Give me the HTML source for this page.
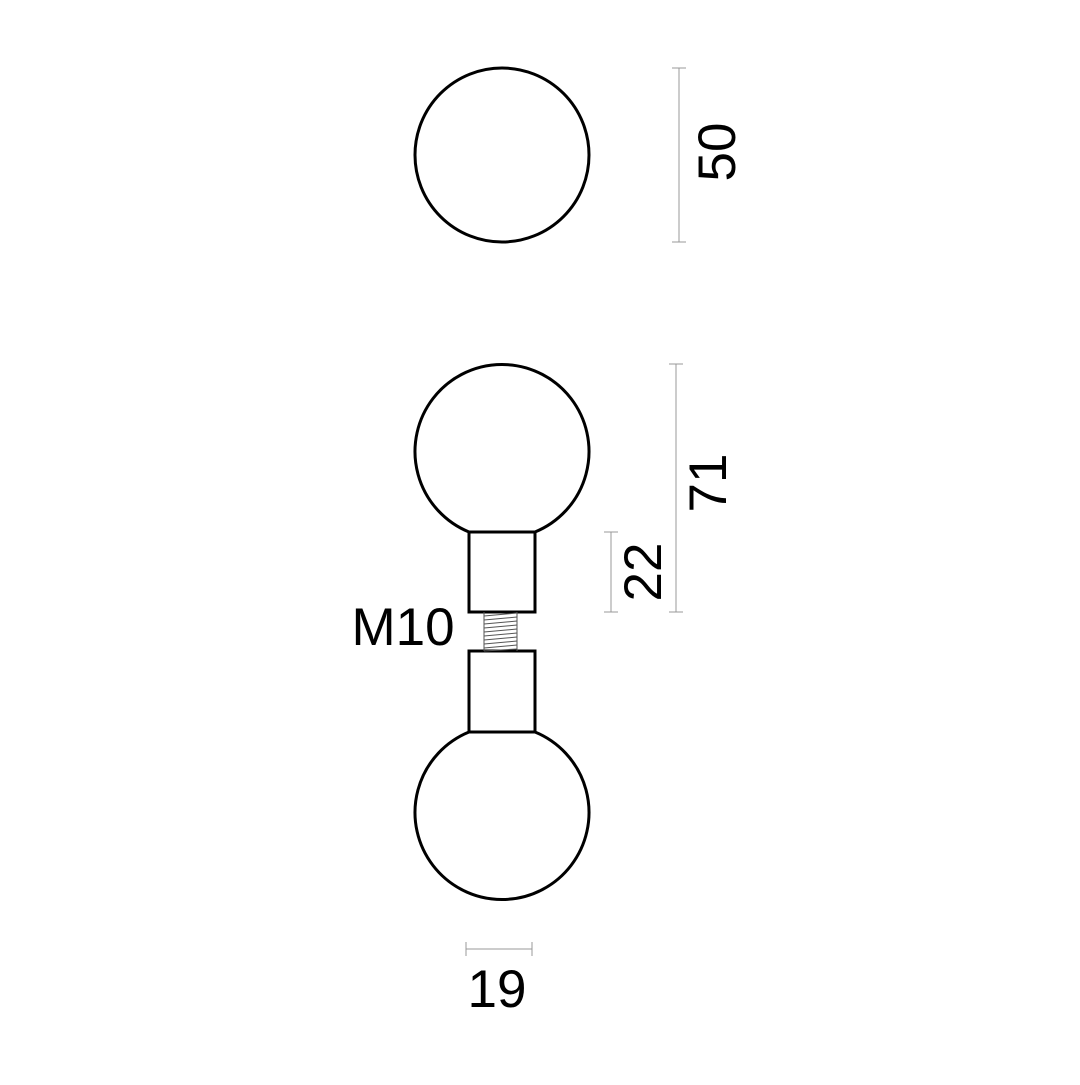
<!DOCTYPE html>
<html><head><style>body{margin:0;background:#fff}</style></head><body>
<svg width="1080" height="1080" viewBox="0 0 1080 1080" xmlns="http://www.w3.org/2000/svg">
<rect width="1080" height="1080" fill="#fff"/>
<g fill="none" stroke="#000" stroke-width="3">
<circle cx="502" cy="155" r="87"/>
<path d="M469 532 A87 87 0 1 1 535 532"/>
<rect x="469" y="532" width="66" height="80"/>
<rect x="469" y="651" width="66" height="81"/>
<path d="M469 732 A87 87 0 1 0 535 732"/>
</g>
<g stroke="#555" stroke-width="1">
<line x1="484" y1="612" x2="484" y2="651"/><line x1="517" y1="612" x2="517" y2="651"/>
<line x1="484" y1="616" x2="517" y2="613"/><line x1="484" y1="620" x2="517" y2="617"/>
<line x1="484" y1="624" x2="517" y2="621"/><line x1="484" y1="628" x2="517" y2="625"/>
<line x1="484" y1="632" x2="517" y2="629"/><line x1="484" y1="636" x2="517" y2="633"/>
<line x1="484" y1="640" x2="517" y2="637"/><line x1="484" y1="644" x2="517" y2="641"/>
<line x1="484" y1="648" x2="517" y2="645"/><line x1="484" y1="651" x2="517" y2="649"/>
</g>
<g stroke="#999" stroke-width="1">
<line x1="679" y1="68" x2="679" y2="242"/><line x1="672" y1="68" x2="686" y2="68"/><line x1="672" y1="242" x2="686" y2="242"/>
<line x1="676" y1="364" x2="676" y2="612"/><line x1="669" y1="364" x2="683" y2="364"/><line x1="669" y1="612" x2="683" y2="612"/>
<line x1="611" y1="532" x2="611" y2="612"/><line x1="604" y1="532" x2="618" y2="532"/><line x1="604" y1="612" x2="618" y2="612"/>
<line x1="466" y1="949" x2="532" y2="949"/><line x1="466" y1="942" x2="466" y2="956"/><line x1="532" y1="942" x2="532" y2="956"/>
</g>
<g font-family="Liberation Sans, sans-serif" font-size="53" fill="#000" text-anchor="middle">
<text transform="translate(735,152) rotate(-90)">50</text>
<text transform="translate(726,483) rotate(-90)">71</text>
<text transform="translate(661,572) rotate(-90)">22</text>
<text x="497" y="1007">19</text>
<text x="403" y="645">M10</text>
</g>
</svg>
</body></html>
